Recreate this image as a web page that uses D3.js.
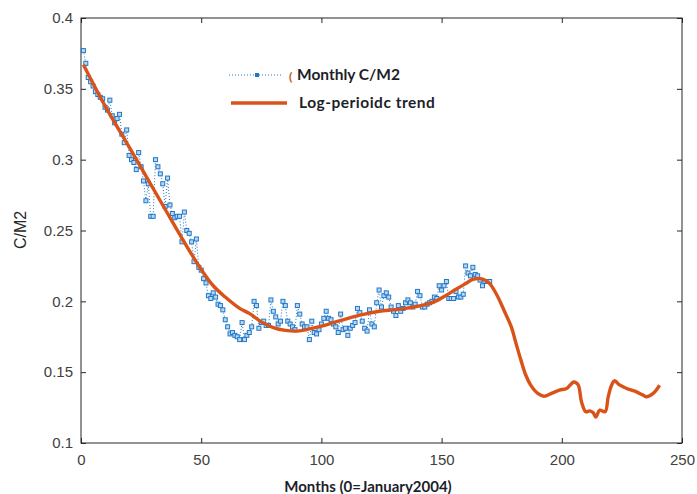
<!DOCTYPE html>
<html><head><meta charset="utf-8">
<script src="https://cdn.jsdelivr.net/npm/d3@7"></script>
<style>body{margin:0;background:#fff;}svg{display:block;}</style>
</head><body>
<script>
// Monthly C/M2, months 1..170
const monthlyStart = 1;
const monthlyValues = [
0.377,0.368,0.358,0.355,0.352,0.348,0.346,0.344,0.343,0.337,
0.335,0.342,0.331,0.326,0.329,0.332,0.318,0.312,0.321,0.303,
0.300,0.298,0.293,0.305,0.295,0.285,0.271,0.283,0.260,0.260,
0.300,0.295,0.290,0.283,0.267,0.287,0.268,0.262,0.259,0.260,
0.260,0.242,0.263,0.250,0.248,0.242,0.228,0.244,0.224,0.222,
0.216,0.213,0.204,0.202,0.206,0.203,0.198,0.197,0.194,0.187,
0.182,0.177,0.178,0.176,0.175,0.173,0.185,0.173,0.176,0.178,
0.182,0.200,0.197,0.181,0.185,0.186,0.183,0.183,0.201,0.193,
0.189,0.184,0.186,0.200,0.197,0.186,0.184,0.182,0.180,0.197,
0.191,0.184,0.182,0.182,0.173,0.186,0.178,0.177,0.180,0.184,
0.188,0.193,0.188,0.187,0.184,0.182,0.178,0.191,0.180,0.181,
0.176,0.181,0.183,0.185,0.195,0.192,0.186,0.181,0.179,0.194,
0.184,0.182,0.199,0.208,0.196,0.204,0.206,0.203,0.196,0.193,
0.190,0.197,0.193,0.195,0.199,0.201,0.199,0.196,0.198,0.207,
0.204,0.196,0.196,0.198,0.199,0.200,0.203,0.202,0.211,0.208,
0.211,0.214,0.202,0.202,0.202,0.207,0.203,0.203,0.205,0.225,
0.220,0.218,0.224,0.219,0.218,0.215,0.211,0.214,0.214,0.214
];
// Log-periodic trend, knots
const trendMonths = [1,10,20,26.5,35,45,50,55,60,66,70,75,80,85,90,95,100,105,110,116,124,130,135,140,144,148,152,156,160,163,166,168,170,173,176,179,181,183,185,187,190,192.6,195.7,199,202,205,206.8,208.2,210,211.6,213,214.1,215.8,218,219.3,220.7,222,224,227,230.4,233.8,235.2,238,240.7];
const trendValues = [0.367,0.338,0.309,0.290,0.265,0.236,0.2225,0.211,0.203,0.195,0.1915,0.1855,0.1815,0.1795,0.179,0.1805,0.1825,0.185,0.1875,0.1902,0.193,0.194,0.195,0.1965,0.198,0.2005,0.2044,0.2085,0.2125,0.2155,0.2160,0.2150,0.2125,0.2045,0.1935,0.182,0.170,0.1585,0.148,0.141,0.135,0.133,0.135,0.1373,0.1385,0.1431,0.141,0.129,0.122,0.1227,0.1215,0.1184,0.1232,0.122,0.1326,0.1408,0.1439,0.141,0.1385,0.1366,0.1338,0.1326,0.135,0.1408];
const xTicks = [0,50,100,150,200,250];
const yTicks = [0.1,0.15,0.2,0.25,0.3,0.35,0.4];
const legendLabels = ["Monthly C/M2","Log-perioidc trend"];
const xLabel = "Months (0=January2004)";
const yLabel = "C/M2";

const W=697,H=494;
const svg=d3.select("body").append("svg").attr("width",W).attr("height",H);
const x=d3.scaleLinear().domain([0,250]).range([81,682]);
const y=d3.scaleLinear().domain([0.1,0.4]).range([443,18]);
const axisColor="#262626";
const blue="#1f77c9", orange="#d95319";

const monthly=monthlyValues.map((v,i)=>({m:monthlyStart+i,v}));
const trend=trendMonths.map((m,i)=>({m,v:trendValues[i]}));

// box
svg.append("rect").attr("x",81).attr("y",18).attr("width",601).attr("height",425)
  .attr("fill","none").attr("stroke",axisColor).attr("stroke-width",1);

function styleAxis(g,showText){
  g.select(".domain").remove();
  g.selectAll(".tick line").attr("stroke",axisColor);
  g.selectAll("text").attr("fill","#404040").attr("font-family","Liberation Sans, Arial, sans-serif").attr("font-size",15);
  if(!showText) g.selectAll("text").remove();
}
svg.append("g").attr("transform","translate(0,443)")
  .call(d3.axisBottom(x).tickValues(xTicks).tickSizeInner(-5).tickSizeOuter(0).tickPadding(11).tickFormat(d3.format("d")))
  .call(g=>styleAxis(g,true));
svg.append("g").attr("transform","translate(0,18)")
  .call(d3.axisTop(x).tickValues(xTicks).tickSizeInner(-5).tickSizeOuter(0))
  .call(g=>styleAxis(g,false));
svg.append("g").attr("transform","translate(81,0)")
  .call(d3.axisLeft(y).tickValues(yTicks).tickSizeInner(-5).tickSizeOuter(0).tickPadding(8).tickFormat(d3.format("~g")))
  .call(g=>styleAxis(g,true));
svg.append("g").attr("transform","translate(682,0)")
  .call(d3.axisRight(y).tickValues(yTicks).tickSizeInner(-5).tickSizeOuter(0))
  .call(g=>styleAxis(g,false));

// monthly dotted line + markers
const line=d3.line().x(d=>x(d.m)).y(d=>y(d.v));
svg.append("path").datum(monthly).attr("d",line).attr("fill","none")
  .attr("stroke",blue).attr("stroke-width",1).attr("stroke-dasharray","1,2");
svg.append("g").selectAll("rect").data(monthly).join("rect")
  .attr("x",d=>x(d.m)-2).attr("y",d=>y(d.v)-2).attr("width",4).attr("height",4)
  .attr("fill","#bcd8f1").attr("stroke",blue).attr("stroke-width",1);

// trend
svg.append("path").datum(trend)
  .attr("d",d3.line().x(d=>x(d.m)).y(d=>y(d.v)).curve(d3.curveCatmullRom.alpha(0.5)))
  .attr("fill","none").attr("stroke",orange).attr("stroke-width",3.4).attr("stroke-linejoin","round");

// legend
const lg=svg.append("g");
lg.append("line").attr("x1",229).attr("x2",281).attr("y1",75).attr("y2",75)
  .attr("stroke",blue).attr("stroke-width",1).attr("stroke-dasharray","1,2");
lg.append("rect").attr("x",255).attr("y",73).attr("width",4).attr("height",4).attr("fill",blue);
lg.append("text").attr("x",289).attr("y",81).text("(").attr("fill","#b05a20")
  .attr("font-family","Lato, sans-serif").attr("font-weight","bold").attr("font-size",12);
lg.append("line").attr("x1",231).attr("x2",287).attr("y1",103).attr("y2",103)
  .attr("stroke",orange).attr("stroke-width",3.4);
lg.selectAll("text.lab").data(legendLabels).join("text").attr("class","lab")
  .attr("x",(d,i)=>i===0?297:299).attr("y",(d,i)=>i===0?80:108).text(d=>d)
  .attr("letter-spacing",(d,i)=>i===0?0:0.5)
  .attr("fill","#1e1e2a").attr("font-family","Lato, sans-serif").attr("font-weight","bold").attr("font-size",15.5);

// axis labels
svg.append("text").attr("x",368).attr("y",492).attr("text-anchor","middle").text(xLabel)
  .attr("fill","#1e1e2a").attr("font-family","Lato, sans-serif").attr("font-weight","bold").attr("font-size",15);
svg.append("text").attr("transform","translate(26,230) rotate(-90)").attr("text-anchor","middle").text(yLabel)
  .attr("fill","#262626").attr("font-family","Liberation Sans, Arial, sans-serif").attr("font-size",16);
</script>
</body></html>
